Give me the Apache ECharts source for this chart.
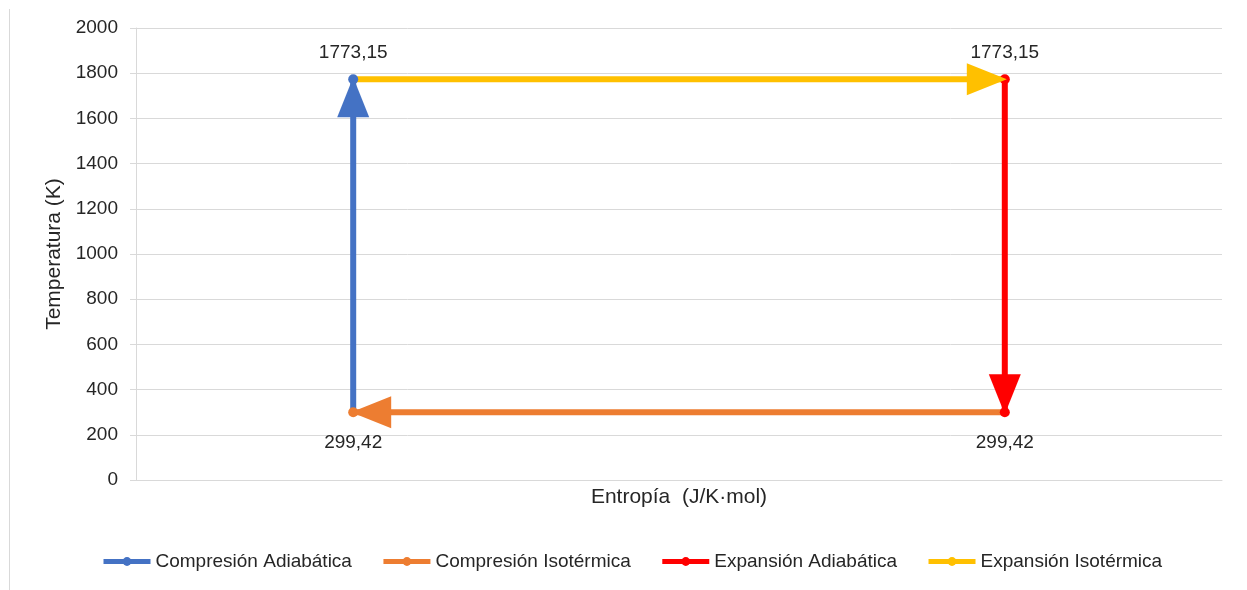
<!DOCTYPE html>
<html>
<head>
<meta charset="utf-8">
<title>Ciclo de Carnot – Diagrama T-S</title>
<script src="https://cdn.jsdelivr.net/npm/echarts@6/dist/echarts.min.js"></script>
<style>
  html, body { margin: 0; padding: 0; background: #ffffff; }
  #chart { width: 1247px; height: 590px; }
</style>
</head>
<body>
<div id="chart"></div>
<script>
// Nombres de las cuatro etapas del ciclo
const etapas = ['Compresión Adiabática', 'Compresión Isotérmica', 'Expansión Adiabática', 'Expansión Isotérmica'];
const colores = ['#4472C4', '#ED7D31', '#FF0000', '#FFC000'];

// Puntos [entropía, temperatura (K)] de cada etapa, en el sentido del recorrido
const compresionAdiabatica = [[2, 299.42], [2, 1773.15]];
const compresionIsotermica = [[8, 299.42], [2, 299.42]];
const expansionAdiabatica = [[8, 1773.15], [8, 299.42]];
const expansionIsotermica = [[2, 1773.15], [8, 1773.15]];

// Escala del eje de temperatura
const tempEje = [0, 2000, 200];
const entropiaEje = [0, 10];

const recorridos = [compresionAdiabatica, compresionIsotermica, expansionAdiabatica, expansionIsotermica];

// Qué puntos llevan marcador y dónde va la etiqueta de valor
const marcadores = [[false, true], [false, true], [true, true], [false, false]];
const etiquetas = [[null, 'top'], [null, 'bottom'], ['top', 'bottom'], [null, null]];

const fuente = 'Liberation Sans';
const gris = '#d9d9d9';
const texto = '#262626';

const formatoValor = v => String(v).replace('.', ',');

const seriesLineas = recorridos.map((puntos, i) => ({
  name: etapas[i],
  type: 'line',
  color: colores[i],
  symbol: 'circle',
  symbolSize: 10,
  lineStyle: { width: 6, color: colores[i], cap: 'butt' },
  itemStyle: { color: colores[i] },
  z: 2 + (i === 3 ? -1 : 0),
  data: puntos.map((p, j) => {
    const item = { value: p };
    if (!marcadores[i][j]) item.symbol = 'none';
    const pos = etiquetas[i][j];
    item.label = pos ? {
      show: true,
      position: pos,
      distance: pos === 'top' ? 12 : 16,
      formatter: d => formatoValor(d.value[1]),
      fontFamily: fuente,
      fontSize: 19,
      color: texto
    } : { show: false };
    return item;
  })
}));

// Puntas de flecha al final de cada etapa, orientadas según el tramo
const flechas = recorridos.map((puntos, i) => {
  const [a, b] = puntos;
  const ang = Math.atan2(b[1] - a[1], b[0] - a[0]);
  const retroceso = 18;
  return {
    value: b,
    symbolRotate: ang * 180 / Math.PI - 90,
    symbolOffset: [-Math.cos(ang) * retroceso, Math.sin(ang) * retroceso],
    itemStyle: { color: colores[i], opacity: 1 }
  };
});

const chart = echarts.init(document.getElementById('chart'), null, { renderer: 'canvas' });

chart.setOption({
  animation: false,
  backgroundColor: '#ffffff',
  textStyle: { fontFamily: fuente },
  graphic: [{
    type: 'line',
    shape: { x1: 9.5, y1: 9, x2: 9.5, y2: 590 },
    style: { stroke: gris, lineWidth: 1 },
    silent: true
  }],
  grid: { left: 136, right: 25, top: 28, bottom: 110, containLabel: false },
  legend: {
    data: etapas,
    left: 96,
    top: 547,
    itemWidth: 47,
    itemHeight: 11,
    itemGap: 29,
    lineStyle: { width: 5 },
    textStyle: { fontFamily: fuente, fontSize: 19, color: texto },
    selectedMode: false
  },
  xAxis: {
    type: 'value',
    min: entropiaEje[0],
    max: entropiaEje[1],
    name: 'Entropía  (J/K·mol)',
    nameLocation: 'middle',
    nameGap: 7,
    nameTextStyle: { fontFamily: fuente, fontSize: 21, color: texto, verticalAlign: 'top' },
    axisLine: { show: true, lineStyle: { color: gris, width: 1 } },
    axisTick: { show: false },
    axisLabel: { show: false },
    splitLine: { show: false }
  },
  yAxis: {
    type: 'value',
    min: tempEje[0],
    max: tempEje[1],
    interval: tempEje[2],
    name: 'Temperatura (K)',
    nameLocation: 'middle',
    nameGap: 67,
    nameTextStyle: { fontFamily: fuente, fontSize: 21, color: texto },
    axisLine: { show: true, lineStyle: { color: gris, width: 1 } },
    axisTick: { show: true, length: 6, lineStyle: { color: gris } },
    axisLabel: { margin: 18, fontFamily: fuente, fontSize: 19, color: texto, formatter: v => String(v) },
    splitLine: { show: true, lineStyle: { color: gris, width: 1 } }
  },
  series: seriesLineas.concat([{
    name: 'flechas',
    type: 'scatter',
    symbol: 'triangle',
    symbolSize: [32, 40],
    z: 4,
    silent: true,
    itemStyle: { opacity: 1 },
    data: flechas
  }])
});
</script>
</body>
</html>
